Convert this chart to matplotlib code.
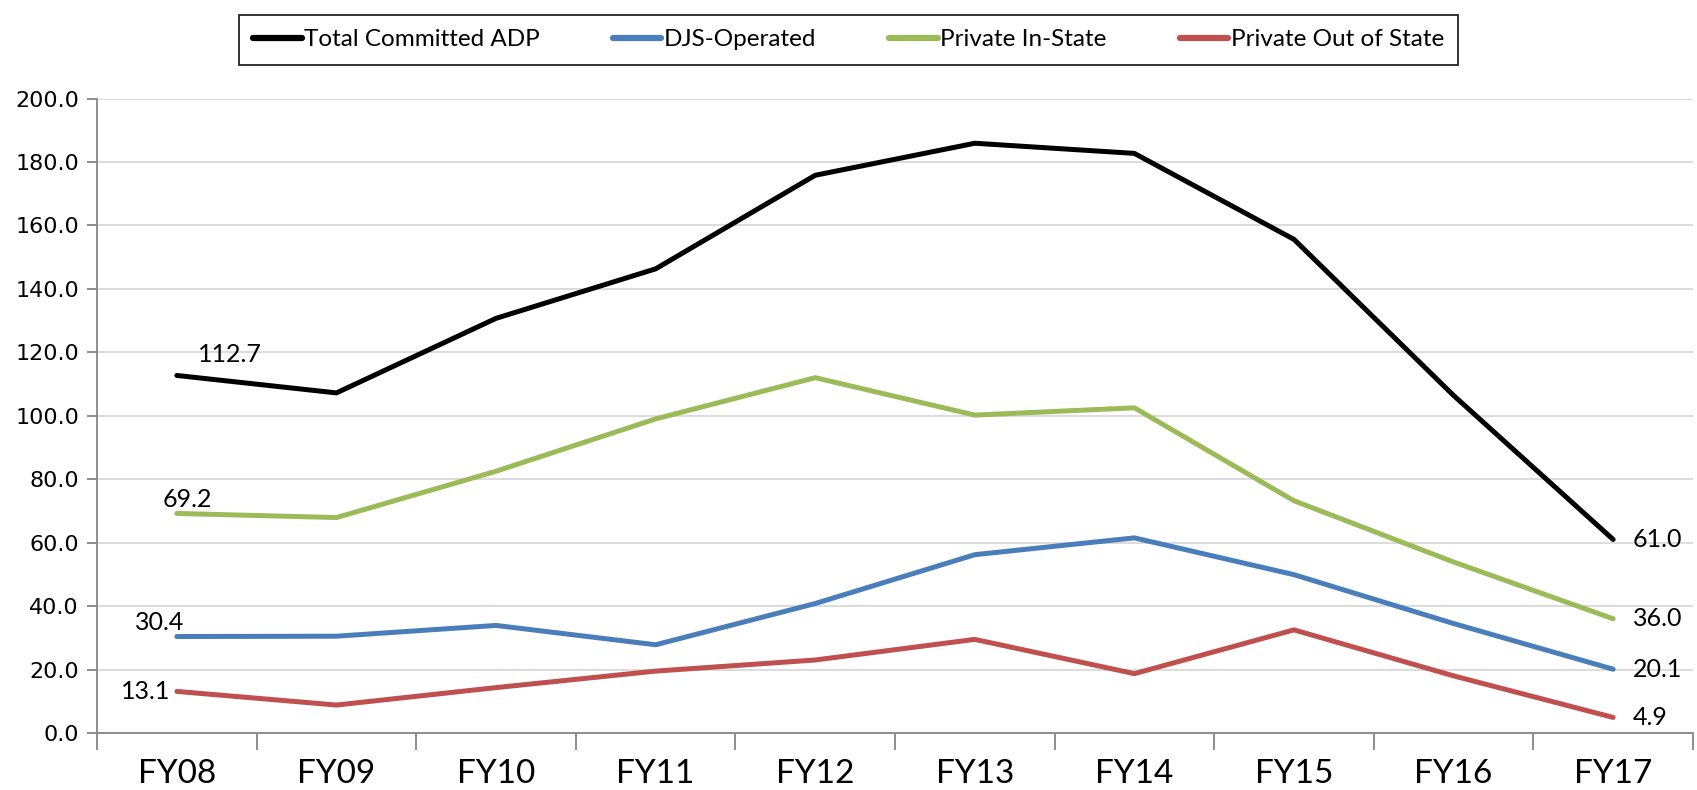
import numpy as np
import matplotlib
matplotlib.use("Agg")
import matplotlib.pyplot as plt
from matplotlib.ticker import FormatStrFormatter

# ---- DATA ----
years = ["FY08", "FY09", "FY10", "FY11", "FY12", "FY13", "FY14", "FY15", "FY16", "FY17"]
total_adp = [112.7, 107.2, 130.7, 146.3, 175.8, 185.9, 182.7, 155.6, 106.4, 61.0]
djs_operated = [30.4, 30.5, 33.9, 27.8, 40.8, 56.2, 61.5, 49.9, 34.5, 20.1]
private_in_state = [69.2, 67.9, 82.5, 99.0, 112.0, 100.2, 102.5, 73.2, 53.9, 36.0]
private_out_state = [13.1, 8.8, 14.3, 19.5, 23.0, 29.5, 18.7, 32.5, 18.0, 4.9]

series = [
    ("Total Committed ADP", total_adp, "#000000"),
    ("DJS-Operated", djs_operated, "#4A7EBB"),
    ("Private In-State", private_in_state, "#9BBB59"),
    ("Private Out of State", private_out_state, "#C0504D"),
]

# ---- FIGURE ----
fig = plt.figure(figsize=(16.97, 7.9), dpi=100)
ax = fig.add_axes([0.0572, 0.0722, 0.9404, 0.8031])

x = np.arange(len(years))
lines = []
for name, vals, color in series:
    ln, = ax.plot(x, vals, color=color, lw=3.6, solid_capstyle="round",
                  solid_joinstyle="round", label=name, zorder=3)
    lines.append(ln)

# ---- DATA LABELS ----
lbl = dict(fontsize=18, family="Lato", color="black")
ax.annotate("112.7", (x[0], total_adp[0]), xytext=(15, 7), textcoords="offset points",
            ha="left", va="bottom", **lbl)
ax.annotate("69.2", (x[0], private_in_state[0]), xytext=(-10, 2), textcoords="offset points",
            ha="left", va="bottom", **lbl)
ax.annotate("30.4", (x[0], djs_operated[0]), xytext=(-30, 2), textcoords="offset points",
            ha="left", va="bottom", **lbl)
ax.annotate("13.1", (x[0], private_out_state[0]), xytext=(-5, 0), textcoords="offset points",
            ha="right", va="center", **lbl)
for name, vals, color in series:
    ax.annotate(f"{vals[-1]:.1f}", (x[-1], vals[-1]), xytext=(14, 0),
                textcoords="offset points", ha="left", va="center", **lbl)

# ---- AXES ----
ax.set_xlim(-0.5, len(years) - 0.5)
ax.set_ylim(0, 200)
ax.set_yticks(np.arange(0, 201, 20))
ax.yaxis.set_major_formatter(FormatStrFormatter("%.1f"))
ax.set_xticks(np.arange(-0.5, len(years), 1.0))
ax.set_xticklabels([])
ax.set_xticks(x, minor=True)
ax.set_xticklabels(years, minor=True, fontsize=24, family="Lato")
ax.tick_params(axis="x", which="major", length=12, width=1.3, color="#868686", direction="out")
ax.tick_params(axis="x", which="minor", length=0, pad=19)
ax.tick_params(axis="y", length=7, width=1.3, color="#868686", direction="out",
               labelsize=16, pad=6)

ax.grid(axis="y", color="#D9D9D9", lw=1.3, zorder=0)
ax.set_axisbelow(True)
for side in ["top", "right"]:
    ax.spines[side].set_visible(False)
for side in ["left", "bottom"]:
    ax.spines[side].set_color("#868686")
    ax.spines[side].set_linewidth(1.3)

# ---- LEGEND ----
leg = fig.legend(handles=lines, loc="upper center", bbox_to_anchor=(0.5, 0.997),
                 ncol=4, frameon=True, fancybox=False, edgecolor="black",
                 prop={"family": "Lato", "size": 17.5}, handlelength=2.0,
                 handletextpad=0.1, columnspacing=3.0, borderpad=0.6)
leg.get_frame().set_linewidth(1.4)
for h in leg.get_lines():
    h.set_linewidth(4.5)

fig.savefig("out.png", dpi=100)
